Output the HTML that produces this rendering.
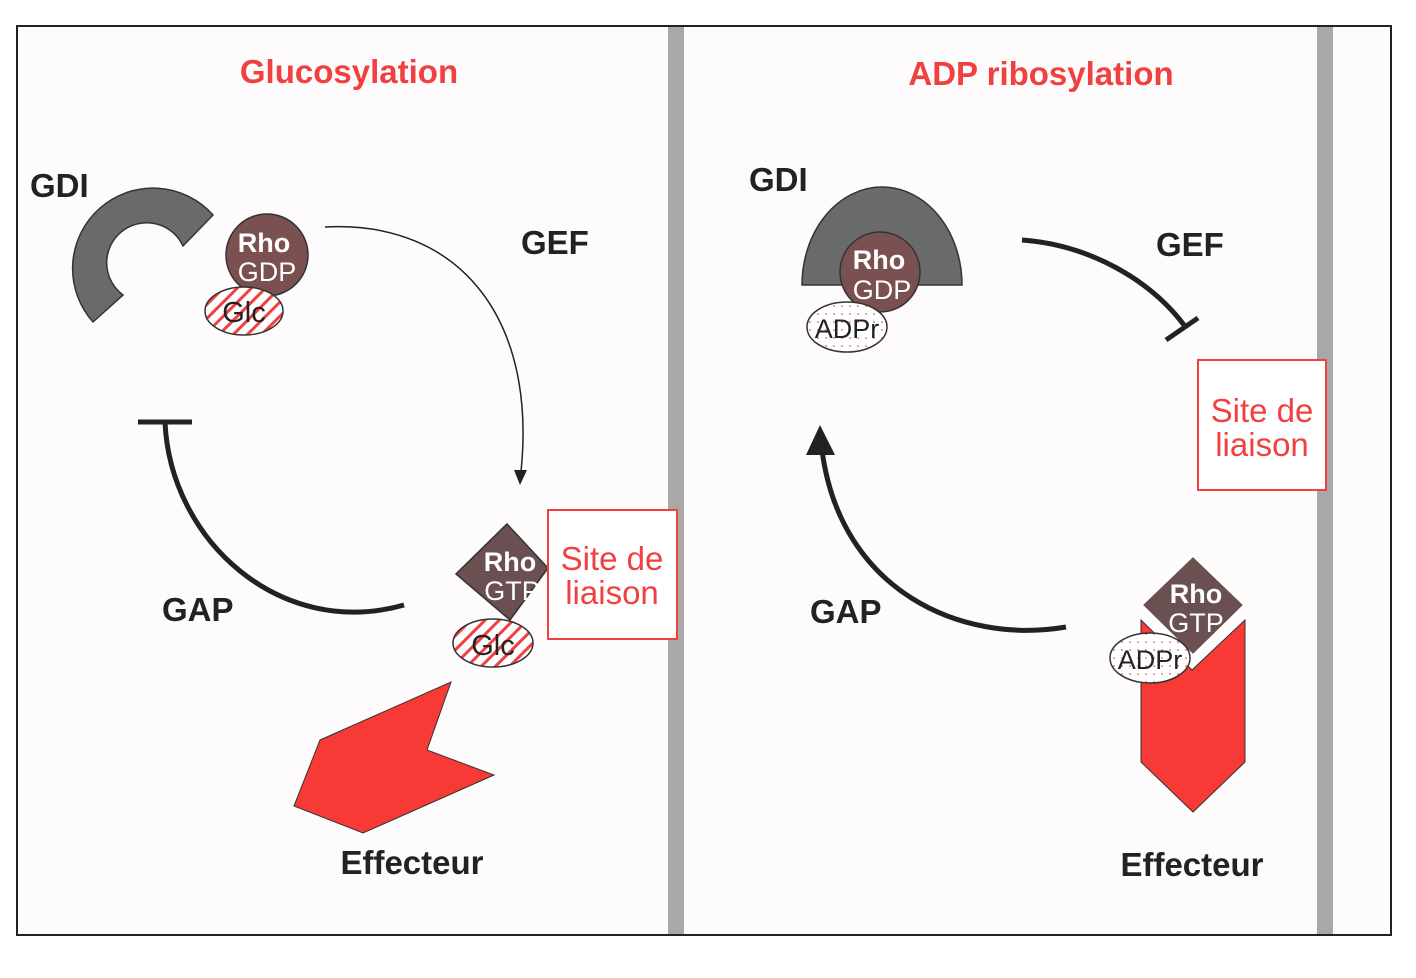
<!DOCTYPE html>
<html><head><meta charset="utf-8"><style>
html,body{margin:0;padding:0;background:#fff;}
svg{display:block;}
text{font-family:"Liberation Sans",sans-serif;}
</style></head><body>
<svg width="1416" height="978" viewBox="0 0 1416 978" xmlns="http://www.w3.org/2000/svg">
<defs>
<pattern id="hatch" width="10" height="10" patternUnits="userSpaceOnUse" patternTransform="rotate(45)">
<rect width="10" height="10" fill="#fff"/><rect x="0" y="0" width="3" height="10" fill="#f04040"/>
</pattern>
<pattern id="dots" width="8" height="8" patternUnits="userSpaceOnUse">
<rect width="8" height="8" fill="#fff"/><circle cx="2" cy="2" r="0.9" fill="#e06060"/>
</pattern>
</defs>
<rect x="17" y="26" width="1374" height="909" fill="#fdfbfc" stroke="#222" stroke-width="2"/>
<rect x="668" y="27" width="16" height="907" fill="#a8a8a8"/>
<rect x="1317" y="27" width="16" height="907" fill="#a8a8a8"/>

<text x="349" y="83" text-anchor="middle" font-size="33" font-weight="bold" fill="#f04040">Glucosylation</text>
<text x="1041" y="85" text-anchor="middle" font-size="33" font-weight="bold" fill="#f04040">ADP ribosylation</text>

<!-- Left panel -->
<text x="30" y="197" font-size="33" font-weight="bold" fill="#222">GDI</text>
<path d="M213,215 A80,80 0 1 0 93,322 L123,295 A40,40 0 1 1 183,246 Z" fill="#6a6a6a" stroke="#333" stroke-width="1.5"/>
<circle cx="267" cy="255" r="41" fill="#7a5050" stroke="#333" stroke-width="1.5"/>
<text x="264" y="252" text-anchor="middle" font-size="27" font-weight="bold" fill="#fff">Rho</text>
<text x="267" y="281" text-anchor="middle" font-size="27" fill="#fff">GDP</text>
<ellipse cx="244" cy="311" rx="39" ry="24" fill="url(#hatch)" stroke="#333" stroke-width="1.5"/>
<text x="244" y="322" text-anchor="middle" font-size="29" fill="#222">Glc</text>

<path d="M325,227 C460,220 540,320 520,480" fill="none" stroke="#222" stroke-width="1.5"/>
<path d="M514,470 L520,485 L527,470 Z" fill="#222"/>
<text x="521" y="254" font-size="33" font-weight="bold" fill="#222">GEF</text>

<path d="M165,422 C170,540 280,640 404,605" fill="none" stroke="#222" stroke-width="5"/>
<line x1="138" y1="422" x2="192" y2="422" stroke="#222" stroke-width="5"/>
<text x="162" y="621" font-size="33" font-weight="bold" fill="#222">GAP</text>

<polygon points="507,524 548,568 510,620 456,574" fill="#6a5050" stroke="#333" stroke-width="1.5"/>
<text x="510" y="571" text-anchor="middle" font-size="27" font-weight="bold" fill="#fff">Rho</text>
<text x="512" y="600" text-anchor="middle" font-size="27" fill="#fff">GTP</text>
<ellipse cx="493" cy="643" rx="40" ry="24" fill="url(#hatch)" stroke="#333" stroke-width="1.5"/>
<text x="493" y="655" text-anchor="middle" font-size="29" fill="#222">Glc</text>
<rect x="548" y="510" width="129" height="129" fill="#fff" stroke="#f04040" stroke-width="2"/>
<text x="612" y="570" text-anchor="middle" font-size="33" fill="#f04040">Site de</text>
<text x="612" y="604" text-anchor="middle" font-size="33" fill="#f04040">liaison</text>

<polygon points="320,740 451,682 427,750 494,775 363,833 294,806" fill="#f83a36" stroke="#333" stroke-width="1"/>
<text x="412" y="874" text-anchor="middle" font-size="33" font-weight="bold" fill="#222">Effecteur</text>

<!-- Right panel -->
<text x="749" y="191" font-size="33" font-weight="bold" fill="#222">GDI</text>
<path d="M802,285 A80,98 0 0 1 962,285 Z" fill="#6a6a6a" stroke="#333" stroke-width="1.5"/>
<circle cx="880" cy="272" r="40" fill="#7a5050" stroke="#333" stroke-width="1.5"/>
<text x="879" y="269" text-anchor="middle" font-size="27" font-weight="bold" fill="#fff">Rho</text>
<text x="882" y="299" text-anchor="middle" font-size="27" fill="#fff">GDP</text>
<ellipse cx="847" cy="327" rx="40" ry="25" fill="url(#dots)" stroke="#333" stroke-width="1.5"/>
<text x="847" y="338" text-anchor="middle" font-size="27" fill="#222">ADPr</text>

<path d="M1022,240 C1090,245 1150,280 1184,325" fill="none" stroke="#222" stroke-width="5"/>
<line x1="1166" y1="340" x2="1198" y2="318" stroke="#222" stroke-width="5"/>
<text x="1156" y="256" font-size="33" font-weight="bold" fill="#222">GEF</text>

<rect x="1198" y="360" width="128" height="130" fill="#fff" stroke="#f04040" stroke-width="2"/>
<text x="1262" y="422" text-anchor="middle" font-size="33" fill="#f04040">Site de</text>
<text x="1262" y="456" text-anchor="middle" font-size="33" fill="#f04040">liaison</text>

<path d="M1066,627 C960,645 840,590 822,450" fill="none" stroke="#222" stroke-width="5"/>
<path d="M806,455 L820,425 L835,455 Z" fill="#222"/>
<text x="810" y="623" font-size="33" font-weight="bold" fill="#222">GAP</text>

<polygon points="1141,620 1192,670 1245,620 1245,762 1193,812 1141,762" fill="#f83a36" stroke="#333" stroke-width="1"/>
<polygon points="1193,555 1245,605 1193,656 1141,605" fill="#6a5050" stroke="#fff" stroke-width="3"/>
<text x="1196" y="603" text-anchor="middle" font-size="27" font-weight="bold" fill="#fff">Rho</text>
<text x="1196" y="632" text-anchor="middle" font-size="27" fill="#fff">GTP</text>
<ellipse cx="1150" cy="658" rx="40" ry="25" fill="url(#dots)" stroke="#333" stroke-width="1.5"/>
<text x="1150" y="669" text-anchor="middle" font-size="27" fill="#222">ADPr</text>
<text x="1192" y="876" text-anchor="middle" font-size="33" font-weight="bold" fill="#222">Effecteur</text>
</svg>
</body></html>
